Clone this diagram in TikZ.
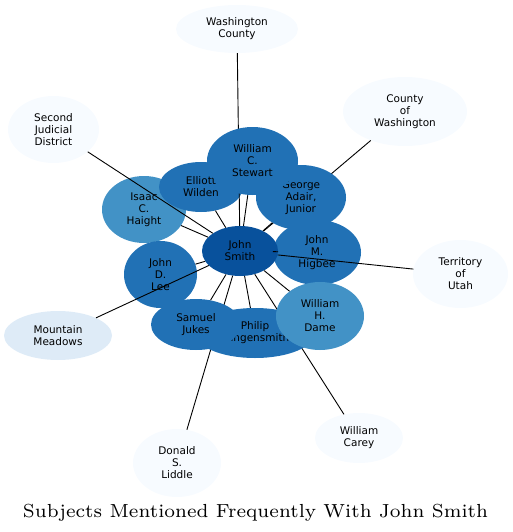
\documentclass[tikz,border=0pt]{standalone}
\usepackage{fontspec}
\newfontfamily\labelfont{DejaVu Sans}
\usepackage{tikz}
\usetikzlibrary{shapes.geometric}
\definecolor{blue0}{HTML}{F7FBFF}
\definecolor{blue1}{HTML}{DEEBF7}
\definecolor{blue4}{HTML}{4292C6}
\definecolor{blue5}{HTML}{2171B5}
\definecolor{blue6}{HTML}{08519C}
\tikzset{subj/.style={ellipse, inner sep=0pt, align=center,
	font=\labelfont\fontsize{10.5}{12}\selectfont},
	tie/.style={line width=0.9pt}}
\begin{document}
\begin{tikzpicture}[x=1pt, y=-1pt]
	 \path[use as bounding box] (0,0) rectangle (513,532);
	 % outer subjects
	 \node[subj, fill=blue0, minimum width=122, minimum height=48] (wcounty) at (237,29) {Washington\\County};
	 \node[subj, fill=blue0, minimum width=91, minimum height=67] (sjd) at (53.5,129.5) {Second\\Judicial\\District};
	 \node[subj, fill=blue0, minimum width=124, minimum height=69] (cwash) at (405,111.5) {County\\of\\Washington};
	 \node[subj, fill=blue0, minimum width=95, minimum height=68] (utah) at (460.5,274) {Territory\\of\\Utah};
	 \node[subj, fill=blue1, minimum width=108, minimum height=49] (meadows) at (58,335.5) {Mountain\\Meadows};
	 \node[subj, fill=blue0, minimum width=88, minimum height=50] (carey) at (359,438) {William\\Carey};
	 \node[subj, fill=blue0, minimum width=88, minimum height=68] (liddle) at (177,463) {Donald\\S.\\Liddle};
	 % inner ring, lower layer
	 \node[subj, fill=blue4, minimum width=84, minimum height=67] (haight) at (144,209.5) {Isaac\\C.\\Haight};
	 \node[subj, fill=blue5, minimum width=84, minimum height=50] (wilden) at (201,187) {Elliott\\Wilden};
	 \node[subj, fill=blue5, minimum width=73, minimum height=67] (lee) at (160.5,274.5) {John\\D.\\Lee};
	 \node[subj, fill=blue5, minimum width=88, minimum height=65] (higbee) at (317,252.5) {John\\M.\\Higbee};
	 \node[subj, fill=blue6, minimum width=76, minimum height=50] (smith) at (240,251) {John\\Smith};
	 \foreach \x in {haight,wilden,lee,higbee,wcounty,sjd,cwash,utah,meadows,carey,liddle}
		\draw[tie] (smith) -- (\x);
	 % inner ring, upper layer
	 \node[subj, fill=blue5, minimum width=90, minimum height=65] (adair) at (301,197.5) {George\\Adair,\\Junior};
	 \node[subj, fill=blue5, minimum width=120, minimum height=50] (klingensmith) at (255,333) {Philip\\Klingensmith};
	 \node[subj, fill=blue5, minimum width=90, minimum height=51] (jukes) at (196,324.5) {Samuel\\Jukes};
	 \node[subj, fill=blue5, minimum width=91, minimum height=68] (stewart) at (252.5,161) {William\\C.\\Stewart};
	 \node[subj, fill=blue4, minimum width=88, minimum height=68] (dame) at (320,316) {William\\H.\\Dame};
	 \foreach \x in {adair,klingensmith,jukes,stewart,dame}
		\draw[tie] (smith) -- (\x);
	 \node[font=\fontsize{7}{8.4}\selectfont, scale=2.7, inner sep=0pt] (title) at (255.5,512.3) {Subjects Mentioned Frequently With John Smith};
\end{tikzpicture}
\end{document}
